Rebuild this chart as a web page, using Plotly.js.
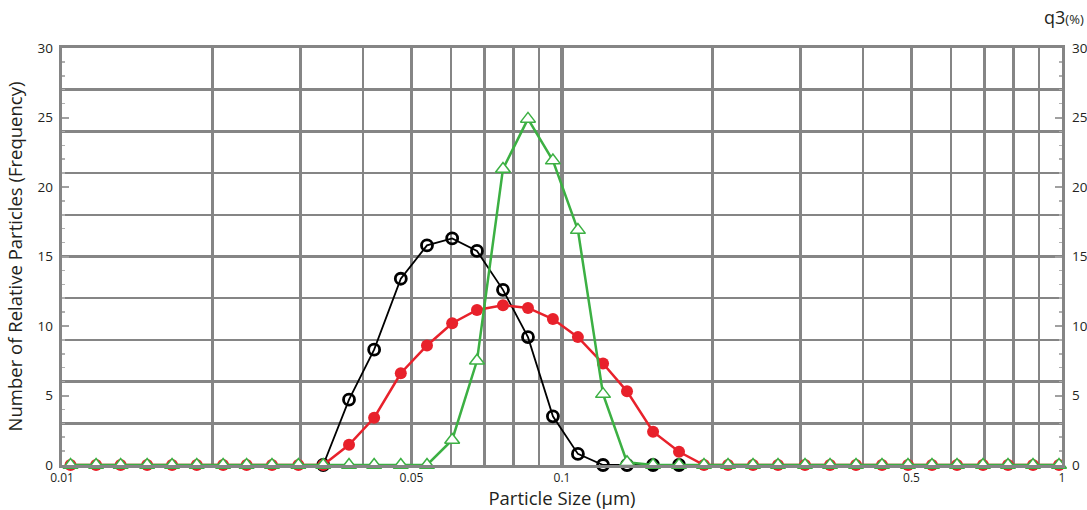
<!DOCTYPE html>
<html>
<head>
<meta charset="utf-8">
<script src="https://cdn.plot.ly/plotly-3.0.1.min.js"></script>
<style>html,body{margin:0;padding:0;background:#fff;}#chart{width:1087px;height:510px;}</style>
</head>
<body>
<div id="chart"></div>
<script>
// Particle size classes (µm)
const sizes = [0.0104,0.0117,0.0131,0.0148,0.0166,0.0186,0.0210,0.0234,0.0263,0.0297,
  0.0333,0.0375,0.0421,0.0476,0.0537,0.0603,0.0676,0.0762,0.0855,0.0959,
  0.1076,0.1208,0.1349,0.1521,0.1714,0.1923,0.2148,0.2410,0.2704,0.3062,
  0.3436,0.3873,0.4365,0.4920,0.5495,0.6166,0.6950,0.7798,0.8750,0.9863];

// Black open circles
const seriesBlack = [null,null,null,null,null,null,null,null,null,null,
  0,4.7,8.3,13.4,15.8,16.3,15.4,12.6,9.2,3.5,
  0.8,0,0,0,0,null,null,null,null,null,
  null,null,null,null,null,null,null,null,null,null];

// Red filled circles
const seriesRed = [0,0,0,0,0,0,0,0,0,0,
  0,1.45,3.4,6.6,8.6,10.2,11.15,11.5,11.3,10.5,
  9.2,7.3,5.3,2.4,0.95,0,0,0,0,0,
  0,0,0,0,0,0,0,0,0,0];

// Green open triangles
const seriesGreen = [0,0,0,0,0,0,0,0,0,0,
  0,0,0,0,0,1.8,7.5,21.3,24.9,21.9,
  16.9,5.1,0.2,0,0,0,0,0,0,0,
  0,0,0,0,0,0,0,0,0,0];

const gridVals = [0.01,0.02,0.03,0.04,0.05,0.06,0.07,0.08,0.09,0.1,0.2,0.3,0.4,0.5,0.6,0.7,0.8,0.9,1];
const gridText = gridVals.map(v => ({0.01:'0.01',0.05:'0.05',0.1:'0.1',0.5:'0.5',1:'1'}[v] || ''));
const yTickVals = [0,5,10,15,20,25,30];
const yTickText = ['0','5','10','15','20','25','30'];

const font = 'Open Sans, Noto Sans, sans-serif';
const gray = '#858585';
const ink = '#231f20';

const traces = [
  {x:[0.1], y:[null], xaxis:'x2', yaxis:'y', mode:'markers', showlegend:false, hoverinfo:'skip'},
  {x:[0.1], y:[null], xaxis:'x', yaxis:'y2', mode:'markers', showlegend:false, hoverinfo:'skip'},
  {x:[0.1], y:[null], xaxis:'x', yaxis:'y3', mode:'markers', showlegend:false, hoverinfo:'skip'},
  {x:sizes, y:seriesBlack, mode:'lines+markers', cliponaxis:false,
   line:{color:'#000000', width:1.8},
   marker:{symbol:'circle-open', size:11, color:'#000000', line:{width:2.8}}},
  {x:sizes, y:seriesRed, mode:'lines+markers', cliponaxis:false,
   line:{color:'#e8212b', width:2.5},
   marker:{symbol:'circle', size:12, color:'#e8212b'}},
  {x:sizes, y:seriesGreen, mode:'lines+markers', cliponaxis:false,
   line:{color:'#3cb043', width:2.5},
   marker:{symbol:'triangle-up', size:13, color:'#ffffff', line:{color:'#3cb043', width:1.5}}}
];

const layout = {
  width:1087, height:510,
  margin:{l:62, r:25, t:48, b:45},
  paper_bgcolor:'#ffffff', plot_bgcolor:'#ffffff',
  showlegend:false,
  font:{family:font, color:ink},
  xaxis:{type:'log', range:[-2,0], tickmode:'array', tickvals:gridVals, ticktext:gridText,
    showgrid:true, gridcolor:gray, gridwidth:2.5, ticks:'', zeroline:false,
    showline:true, mirror:true, linecolor:gray, linewidth:3,
    tickfont:{size:12, color:ink, family:font},
    title:{text:'Particle Size (µm)', font:{size:18.5, color:ink, family:font}, standoff:4}},
  xaxis2:{type:'log', range:[-2,0], overlaying:'x', tickmode:'array', tickvals:[0.1],
    showgrid:true, gridcolor:gray, gridwidth:4, showticklabels:false, ticks:'', showline:false, zeroline:false},
  yaxis:{range:[0,30], dtick:3, tick0:0, showgrid:true, gridcolor:gray, gridwidth:2.5,
    showticklabels:false, ticks:'', zeroline:false, showline:true, mirror:true, linecolor:gray, linewidth:3,
    title:{text:'Number of Relative Particles (Frequency)', font:{size:18.5, color:ink, family:font}, standoff:32}},
  yaxis2:{range:[0,30], overlaying:'y', side:'left', tickmode:'array', tickvals:yTickVals, ticktext:yTickText,
    showgrid:false, zeroline:false, showline:false, ticks:'inside', ticklen:7, tickcolor:'#a0a0a0', tickwidth:2,
    ticklabelstandoff:8,
    minor:{dtick:1, ticks:'inside', ticklen:3, tickcolor:'#b0b0b0', tickwidth:1.5},
    tickfont:{size:13.5, color:ink, family:font}},
  yaxis3:{range:[0,30], overlaying:'y', side:'right', tickmode:'array', tickvals:yTickVals, ticktext:yTickText,
    showgrid:false, zeroline:false, showline:false, ticks:'inside', ticklen:7, tickcolor:'#a0a0a0', tickwidth:2,
    ticklabelstandoff:9,
    minor:{dtick:1, ticks:'inside', ticklen:3, tickcolor:'#b0b0b0', tickwidth:1.5},
    tickfont:{size:13.5, color:ink, family:font}},
  annotations:[{xref:'paper', yref:'paper', x:1.024, y:1.075, xanchor:'right', yanchor:'middle', showarrow:false,
    text:'q3<span style="font-size:13px">(%)</span>', font:{size:18, color:ink, family:font}}]
};

Plotly.newPlot('chart', traces, layout, {displayModeBar:false, staticPlot:true});
</script>
</body>
</html>
